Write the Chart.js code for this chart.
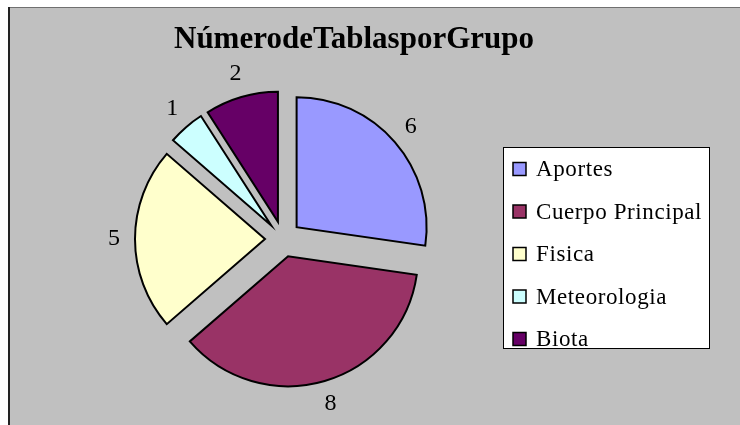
<!DOCTYPE html>
<html>
<head>
<meta charset="utf-8">
<script src="https://cdn.jsdelivr.net/npm/chart.js@4"></script>
<style>
  html, body { margin: 0; padding: 0; background: #fff; }
  #wrap { width: 740px; height: 425px; }
</style>
</head>
<body>
<div id="wrap"><canvas id="pie-chart" width="740" height="425"></canvas></div>
<script>
// categorias y valores
const grupos = ['Aportes', 'Cuerpo Principal', 'Fisica', 'Meteorologia', 'Biota'];
const numTablas = [6, 8, 5, 1, 2];
const colores = ['#9999ff', '#993366', '#ffffcc', '#ccffff', '#660066'];
const titulo = 'NúmerodeTablasporGrupo';

const EXPLODE = 18;
const SERIF = '"Liberation Serif", "DejaVu Serif", serif';

// fondo gris y marco
const fondo = {
  id: 'fondo',
  beforeDraw(chart) {
    const ctx = chart.ctx;
    ctx.save();
    ctx.fillStyle = '#ffffff';
    ctx.fillRect(0, 0, chart.width, chart.height);
    ctx.fillStyle = '#c0c0c0';
    ctx.fillRect(9, 8, chart.width - 9, chart.height - 8);
    ctx.strokeStyle = '#707070';
    ctx.lineWidth = 1;
    ctx.beginPath();
    ctx.moveTo(8, 7.5);
    ctx.lineTo(chart.width, 7.5);
    ctx.stroke();
    ctx.strokeStyle = '#222222';
    ctx.lineWidth = 2;
    ctx.beginPath();
    ctx.moveTo(9, 7);
    ctx.lineTo(9, chart.height);
    ctx.stroke();
    ctx.restore();
  },
};

// separar los sectores del centro
const separar = {
  id: 'separar',
  afterDatasetUpdate(chart, args) {
    for (const arc of args.meta.data) {
      const mid = (arc.startAngle + arc.endAngle) / 2;
      arc.x += Math.cos(mid) * EXPLODE;
      arc.y += Math.sin(mid) * EXPLODE;
    }
  },
};

// titulo, etiquetas de valor y leyenda
const textos = {
  id: 'textos',
  afterDraw(chart) {
    const ctx = chart.ctx;
    ctx.save();

    ctx.fillStyle = '#000';
    ctx.font = 'bold 31px ' + SERIF;
    ctx.textAlign = 'center';
    ctx.textBaseline = 'alphabetic';
    ctx.fillText(titulo, 354, 48);

    // etiquetas fuera de cada sector
    ctx.font = '24px ' + SERIF;
    ctx.textBaseline = 'middle';
    const meta = chart.getDatasetMeta(0);
    meta.data.forEach((arc, i) => {
      const mid = (arc.startAngle + arc.endAngle) / 2;
      const dx = Math.cos(mid);
      const dy = Math.sin(mid);
      const txt = String(numTablas[i]);
      const hw = ctx.measureText(txt).width / 2;
      const hh = 9;
      const d = arc.outerRadius + 15;
      const x = arc.x + dx * d + dx * hw;
      const y = arc.y + dy * d + dy * hh;
      ctx.fillText(txt, x, y);
    });

    // leyenda
    const box = { x: 503.5, y: 147.5, w: 206, h: 201 };
    ctx.fillStyle = '#fff';
    ctx.fillRect(box.x, box.y, box.w, box.h);
    ctx.strokeStyle = '#000';
    ctx.lineWidth = 1;
    ctx.strokeRect(box.x, box.y, box.w, box.h);

    ctx.textAlign = 'left';
    ctx.font = '23px ' + SERIF;
    ctx.letterSpacing = '0.6px';
    grupos.forEach((g, i) => {
      const cy = 169 + i * 42.5;
      ctx.fillStyle = colores[i];
      ctx.fillRect(513, cy - 6.5, 13, 13);
      ctx.strokeStyle = '#000';
      ctx.lineWidth = 1.5;
      ctx.strokeRect(513, cy - 6.5, 13, 13);
      ctx.fillStyle = '#000';
      ctx.fillText(g, 536, cy + 1);
    });
    ctx.restore();
  },
};

new Chart(document.getElementById('pie-chart'), {
  type: 'pie',
  data: {
    labels: grupos,
    datasets: [
      {
        data: numTablas,
        backgroundColor: colores,
        borderColor: '#000',
        borderWidth: 2,
        borderJoinStyle: 'miter',
        clip: false,
      },
    ],
  },
  options: {
    responsive: false,
    animation: false,
    events: [],
    radius: 130,
    layout: {
      padding: { left: 0, right: 174, top: 53, bottom: 0 },
    },
    plugins: {
      legend: { display: false },
      title: { display: false },
      tooltip: { enabled: false },
    },
  },
  plugins: [fondo, separar, textos],
});
</script>
</body>
</html>
